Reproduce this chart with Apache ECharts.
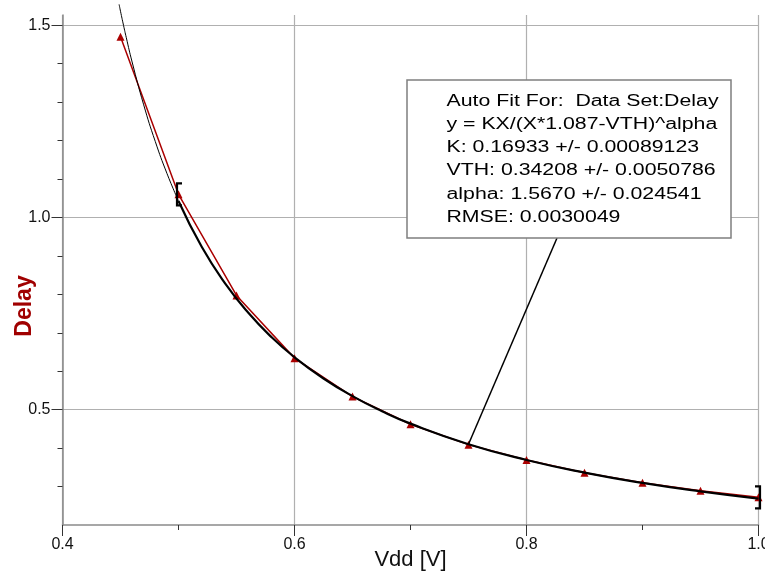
<!DOCTYPE html>
<html><head><meta charset="utf-8">
<script src="https://cdn.jsdelivr.net/npm/echarts@6/dist/echarts.min.js"></script>
<style>html,body{margin:0;padding:0;background:#fff}#c{width:765px;height:585px}</style>
</head><body><div id="c"></div>
<script>
// measured data set "Delay"
const vdd   = [0.45, 0.50, 0.55, 0.60, 0.65, 0.70, 0.75, 0.80, 0.85, 0.90, 0.95, 1.00];
const delay = [1.47, 1.06, 0.797, 0.634, 0.534, 0.462, 0.409, 0.369, 0.336, 0.310, 0.289, 0.272];
// fitted curve y = KX/(X*1.087-VTH)^alpha, values over the fit range 0.5..1.0
const fitX = [0.50, 0.52, 0.54, 0.56, 0.58, 0.60, 0.625, 0.65, 0.675, 0.70, 0.75, 0.80, 0.85, 0.90, 0.95, 1.00];
const fitY = [1.0427, 0.9235, 0.8291, 0.7525, 0.6893, 0.6363, 0.5811, 0.5352, 0.4966, 0.4636, 0.4102, 0.3691, 0.3363, 0.3095, 0.2874, 0.2686];
// same curve extended outside the fit range
const extX = [0.4488, 0.45, 0.4526, 0.455, 0.46, 0.47, 0.48, 0.49, 0.50];
const extY = [1.554, 1.5361, 1.4996, 1.4674, 1.4043, 1.2927, 1.1972, 1.1147, 1.0427];
// fit range bracket positions
const fitRange = [0.50, 1.00];
// tick values
const yMajorTicks = [0.5, 1.0, 1.5];
const yMinorTicks = [0.3, 0.4, 0.6, 0.7, 0.8, 0.9, 1.1, 1.2, 1.3, 1.4];
const fitText = [
  'Auto Fit For:  Data Set:Delay',
  'y = KX/(X*1.087-VTH)^alpha',
  'K: 0.16933 +/- 0.00089123',
  'VTH: 0.34208 +/- 0.0050786',
  'alpha: 1.5670 +/- 0.024541',
  'RMSE: 0.0030049'
];
const calloutX = 0.75;

const FONT = '"Liberation Sans", Arial, sans-serif';
const chart = echarts.init(document.getElementById('c'), null, {renderer: 'canvas'});
const yMin = 0.2, yMax = 1.5264;

const bracketData = fitRange.map((x, i) => [x, delay[vdd.indexOf(x)], i === 0 ? 1 : -1]);

chart.setOption({
  animation: false,
  backgroundColor: '#fff',
  grid: {left: 62.5, right: 6.5, top: 15, bottom: 60, containLabel: false, outerBoundsMode: 'none'},
  xAxis: {
    type: 'value', min: 0.4, max: 1.0, interval: 0.2,
    name: 'Vdd [V]', nameLocation: 'middle', nameGap: 24, nameMoveOverlap: false,
    nameTextStyle: {fontFamily: FONT, fontSize: 22, color: '#111'},
    axisLine: {show: true, onZero: false, lineStyle: {color: '#8a8a8a', width: 1.5}},
    axisTick: {show: true, length: 11, lineStyle: {color: '#333', width: 1}},
    minorTick: {show: true, splitNumber: 2, length: 5, lineStyle: {color: '#333', width: 1}},
    axisLabel: {fontFamily: FONT, fontSize: 16, color: '#111', margin: 12, hideOverlap: false,
      formatter: v => v.toFixed(1)},
    splitLine: {show: true, lineStyle: {color: '#b0b0b0', width: 1.2}},
    minorSplitLine: {show: false}
  },
  yAxis: [{
    type: 'value', min: yMin, max: yMax, position: 'left',
    name: 'Delay', nameLocation: 'middle', nameGap: 26, nameMoveOverlap: false,
    nameTextStyle: {fontFamily: FONT, fontSize: 23, fontWeight: 'bold', color: '#a00000', padding: [0, 72, 0, 0]},
    axisLine: {show: true, onZero: false, lineStyle: {color: '#8a8a8a', width: 1.5}},
    axisTick: {show: true, length: 11, customValues: yMajorTicks, lineStyle: {color: '#333', width: 1}},
    axisLabel: {fontFamily: FONT, fontSize: 16, color: '#111', margin: 12, customValues: yMajorTicks,
      formatter: v => v.toFixed(1)},
    splitLine: {show: true, lineStyle: {color: '#b0b0b0', width: 1.2}}
  }, {
    type: 'value', min: yMin, max: yMax, position: 'left', offset: 0,
    axisLine: {show: false},
    axisTick: {show: true, length: 5, customValues: yMinorTicks, lineStyle: {color: '#333', width: 1}},
    axisLabel: {show: false},
    splitLine: {show: false}
  }],
  series: [{
    name: 'Delay', type: 'line',
    data: vdd.map((x, i) => [x, delay[i]]),
    color: '#aa0000',
    lineStyle: {color: '#aa0000', width: 1.5},
    symbol: 'triangle', symbolSize: 8, showSymbol: true,
    itemStyle: {color: '#aa0000'},
    z: 2
  }, {
    name: 'fitExt', type: 'line', clip: false,
    data: extX.map((x, i) => [x, extY[i]]),
    smooth: true, showSymbol: false, symbol: 'none',
    lineStyle: {color: '#000', width: 1},
    z: 3
  }, {
    name: 'fit', type: 'line',
    data: fitX.map((x, i) => [x, fitY[i]]),
    smooth: true, showSymbol: false, symbol: 'none',
    lineStyle: {color: '#000', width: 2.2},
    z: 4,
    markLine: {
      silent: true, symbol: 'none', animation: false,
      label: {show: false},
      lineStyle: {color: '#000', width: 1.5, type: 'solid'},
      data: [[{coord: [calloutX, fitY[fitX.indexOf(calloutX)]]}, {coord: [0.8263, 0.9464]}]]
    }
  }, {
    name: 'range', type: 'custom', clip: false, z: 5,
    data: bracketData,
    renderItem: (params, api) => {
      const p = api.coord([api.value(0), api.value(1)]);
      const dir = api.value(2);
      const h = 11, w = 5;
      const x0 = p[0] - dir * 1.5;
      return {
        type: 'polyline',
        shape: {points: [[x0 + dir * w, p[1] - h], [x0, p[1] - h], [x0, p[1] + h], [x0 + dir * w, p[1] + h]]},
        style: {stroke: '#000', lineWidth: 2.2, fill: null}
      };
    }
  }],
  graphic: [{
    type: 'rect', z: 100,
    shape: {x: 407, y: 80, width: 324, height: 158},
    style: {fill: '#fff', stroke: '#7f7f7f', lineWidth: 1.5}
  }, {
    type: 'text', z: 101, x: 446.5, y: 89.5, scaleX: 1.33,
    style: {text: fitText.join('\n'), font: '16px ' + FONT, fill: '#000', lineHeight: 23.3}
  }]
});
</script></body></html>
